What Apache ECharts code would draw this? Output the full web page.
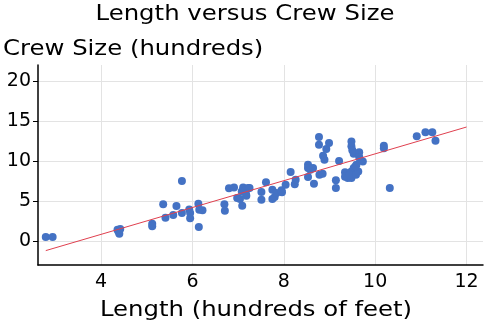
<!DOCTYPE html>
<html>
<head>
<meta charset="utf-8">
<script src="https://cdn.jsdelivr.net/npm/echarts@6/dist/echarts.min.js"></script>
<style>
  html, body { margin: 0; padding: 0; background: #fff; }
  #chart { width: 489px; height: 333px; }
</style>
</head>
<body>
<div id="chart"></div>
<script>
// Ship length (hundreds of feet)
const shipLength = [
  2.79, 2.94, 4.36, 4.42, 4.40, 4.38, 5.12, 5.12, 5.36, 5.41,
  5.58, 5.65, 5.77, 5.77, 5.93, 5.95, 5.95, 6.13, 6.15, 6.22,
  6.14, 6.70, 6.71, 6.80, 6.91, 6.98, 7.04, 7.09, 7.08, 7.11,
  7.15, 7.18, 7.22, 7.25, 7.17, 7.51, 7.51, 7.61, 7.75, 7.75,
  7.80, 7.84, 7.95, 7.96, 8.04, 8.15, 8.24, 8.26, 8.53, 8.53,
  8.53, 8.58, 8.64, 8.66, 8.77, 8.77, 8.78, 8.85, 8.86, 8.89,
  8.93, 8.99, 9.14, 9.14, 9.21, 9.34, 9.34, 9.40, 9.48, 9.48,
  9.48, 9.50, 9.53, 9.65, 9.65, 9.67, 9.73, 9.59, 9.53, 9.48,
  9.44, 9.58, 9.63, 9.57, 10.19, 10.19, 10.32, 10.91, 11.10, 11.25,
  11.32
];
// Crew size (hundreds)
const crewSize = [
  0.50, 0.50, 1.40, 1.50, 0.90, 1.20, 2.16, 1.83, 4.60, 2.90,
  3.25, 4.37, 7.50, 3.50, 3.95, 3.50, 2.83, 4.66, 3.90, 3.83,
  1.75, 4.58, 3.79, 6.58, 6.70, 5.37, 5.25, 4.42, 6.20, 6.70,
  6.33, 5.67, 6.62, 6.62, 5.96, 6.12, 5.17, 7.33, 6.42, 5.25,
  5.50, 6.00, 6.33, 6.08, 7.04, 8.62, 7.08, 7.66, 9.54, 8.00,
  9.12, 8.90, 9.12, 7.16, 13.00, 12.04, 8.29, 8.41, 10.66, 10.16,
  11.50, 12.25, 7.58, 6.62, 10.00, 8.60, 8.04, 7.87, 7.87, 12.45,
  11.83, 11.33, 10.90, 11.08, 10.50, 10.16, 9.95, 9.54, 9.12, 8.70,
  8.29, 8.29, 8.70, 9.33, 11.90, 11.60, 6.62, 13.08, 13.58, 13.58,
  12.54
];
// Least-squares fit line end points
const fitLength = [2.79, 12.0];
const fitCrew = [-1.2, 14.25];

const chartTitle = 'Length versus Crew Size';
const xAxisTitle = 'Length (hundreds of feet)';
const yAxisTitle = 'Crew Size (hundreds)';

const points = shipLength.map((x, i) => [x, crewSize[i]]);
const fitLine = fitLength.map((x, i) => [x, fitCrew[i]]);

const font = 'DejaVu Sans';
const headingSize = 21;
const headingStretch = 1.16;   // wide heading face

function heading(text, x, y, align) {
  return {
    type: 'text',
    x: x, y: y,
    scaleX: headingStretch,
    silent: true,
    style: {
      text: text,
      fontFamily: font,
      fontSize: headingSize,
      fill: '#000',
      align: align, textAlign: align,
      verticalAlign: 'middle', textVerticalAlign: 'middle'
    }
  };
}

const chart = echarts.init(document.getElementById('chart'), null, { renderer: 'canvas' });
chart.setOption({
  animation: false,
  backgroundColor: '#fff',
  textStyle: { fontFamily: font },
  graphic: [
    heading(chartTitle, 245, 15, 'center'),
    heading(yAxisTitle, 3, 50, 'left'),
    heading(xAxisTitle, 256, 311, 'center')
  ],
  grid: { left: 38, right: 6, top: 65, bottom: 68, containLabel: false },
  xAxis: {
    type: 'value',
    min: 2.62,
    max: 12.36,
    axisLine: { show: true, onZero: false, lineStyle: { color: '#000', width: 1.5 } },
    axisTick: { show: false },
    axisLabel: {
      showMinLabel: false, showMaxLabel: false,
      fontFamily: font, fontSize: 19, color: '#000', margin: 8
    },
    splitLine: { show: true, showMinLine: false, showMaxLine: false, lineStyle: { color: '#e3e3e3', width: 1 } }
  },
  yAxis: {
    type: 'value',
    min: -3,
    max: 22,
    axisLine: { show: true, onZero: false, lineStyle: { color: '#000', width: 1.5 } },
    axisTick: { show: true, length: 5, lineStyle: { color: '#000' } },
    axisLabel: {
      showMinLabel: false, showMaxLabel: false,
      fontFamily: font, fontSize: 19, color: '#000', margin: 7
    },
    splitLine: { show: true, showMinLine: false, showMaxLine: false, lineStyle: { color: '#e3e3e3', width: 1 } }
  },
  series: [
    {
      type: 'scatter',
      data: points,
      symbolSize: 8,
      itemStyle: { color: '#4472c4', opacity: 1 }
    },
    {
      type: 'line',
      data: fitLine,
      symbol: 'none',
      lineStyle: { color: '#e0404f', width: 1 },
      z: 3
    }
  ]
});
</script>
</body>
</html>
